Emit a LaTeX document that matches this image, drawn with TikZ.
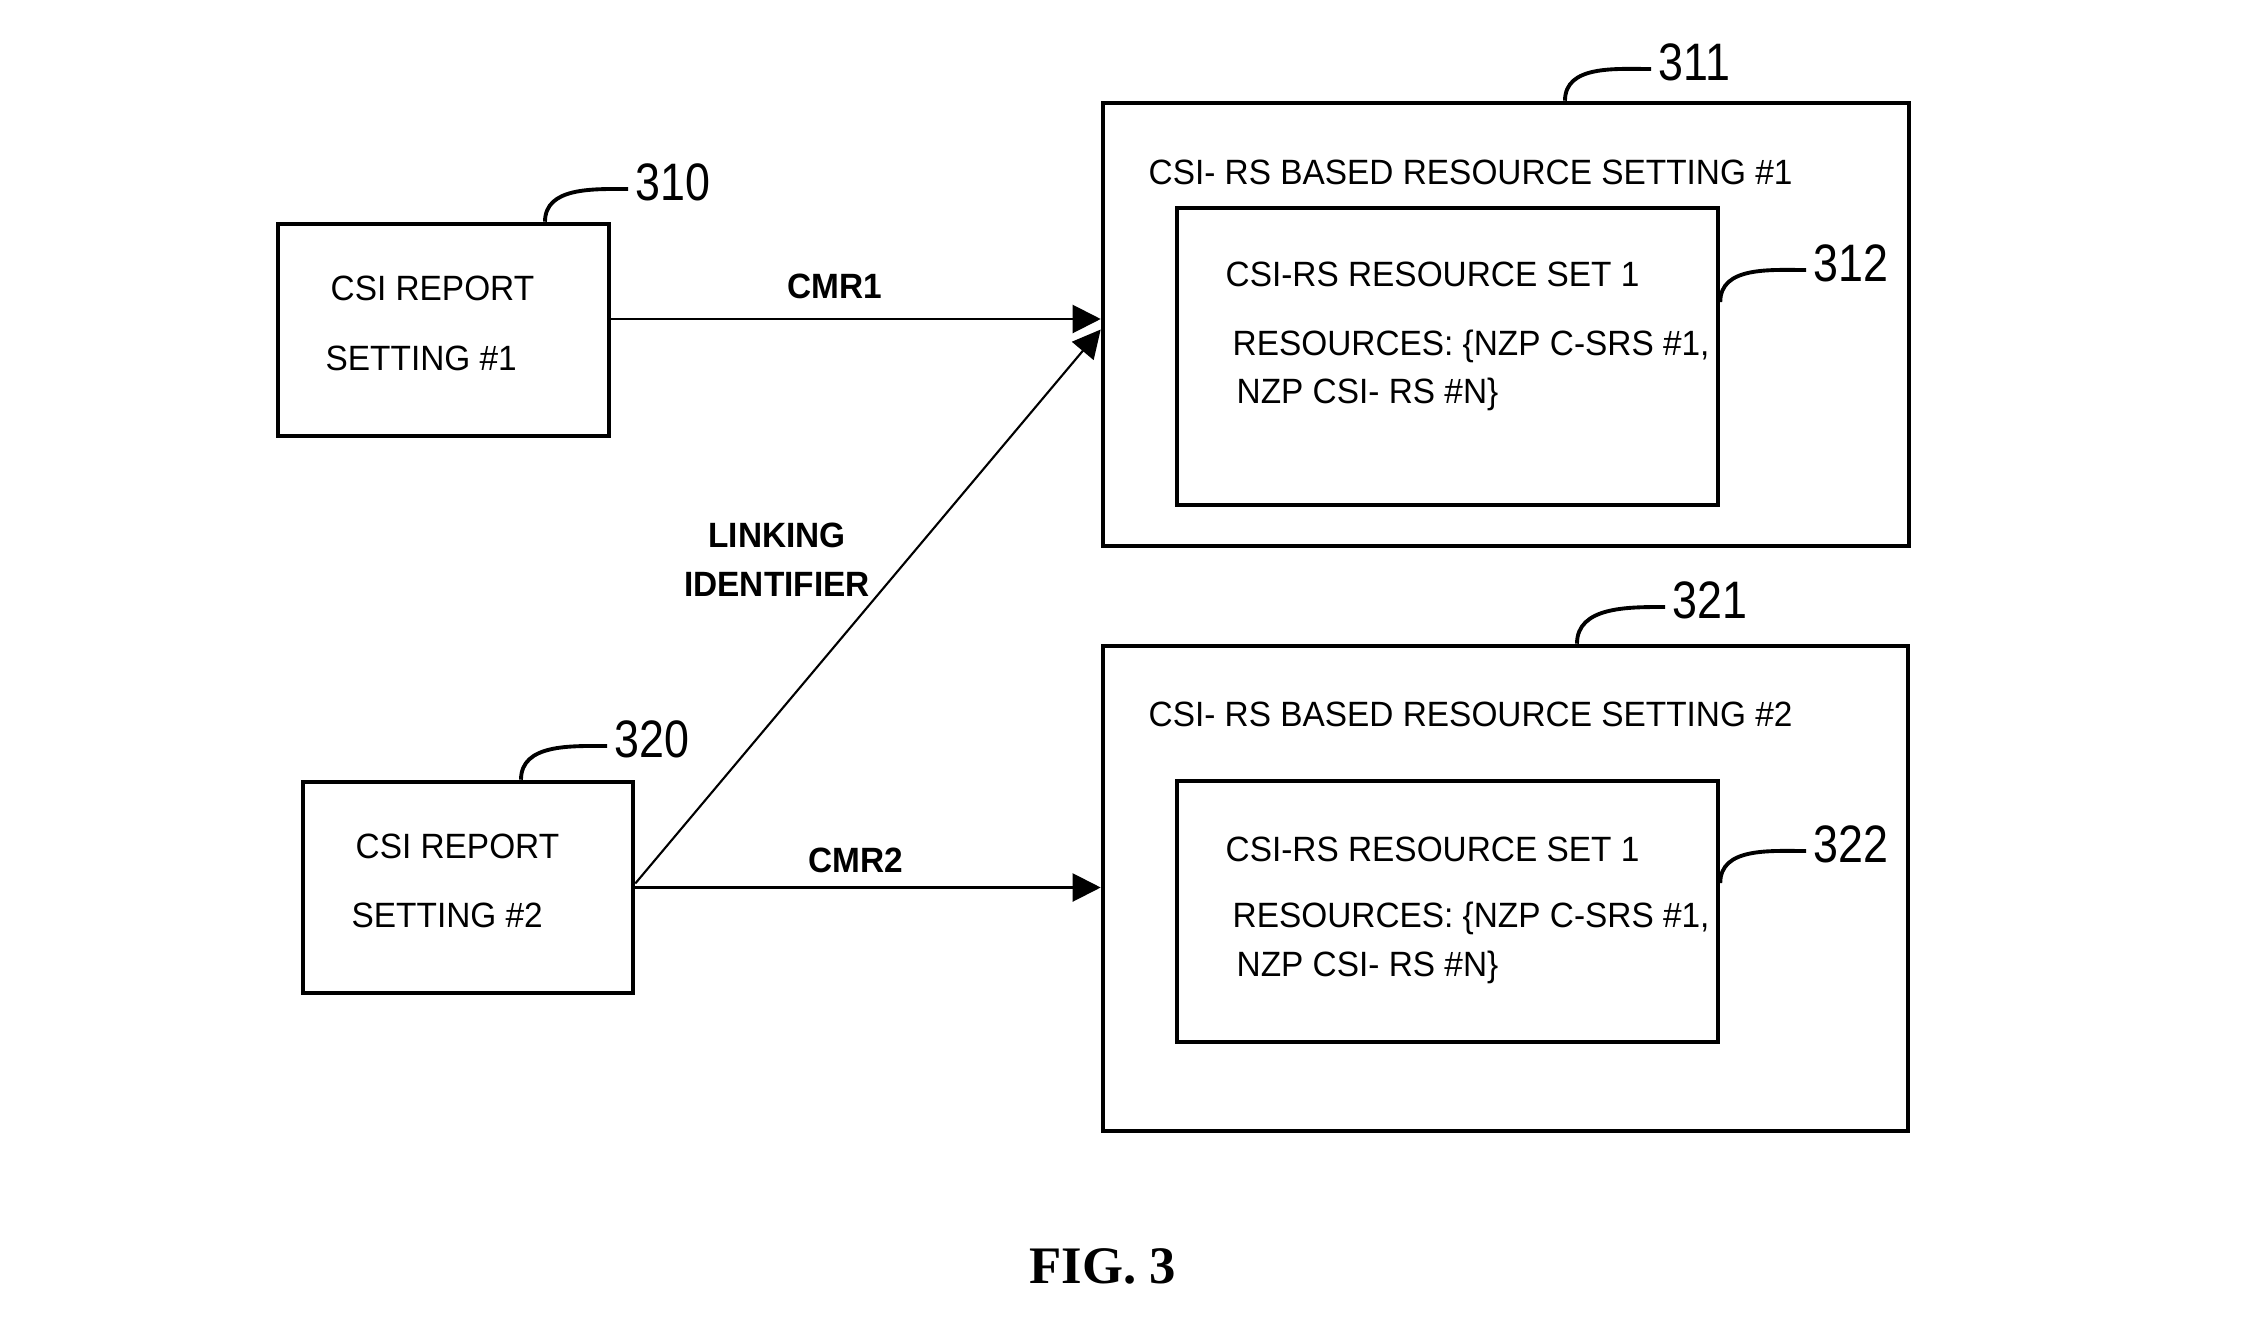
\documentclass[tikz,border=0pt]{standalone}
\usepackage{fontspec}
\setmainfont{Liberation Sans}[FakeStretch=0.95]
\newfontfamily\numfont{Liberation Sans}[FakeStretch=0.85]
\newfontfamily\figfont{Liberation Serif}
\usetikzlibrary{arrows.meta}

\begin{document}
\begin{tikzpicture}[x=0.1mm, y=-0.1mm,
		box/.style={draw, line width=1.3pt, rectangle, inner sep=0pt},
		txt/.style={anchor=base west, inner sep=0pt, font=\fontsize{10}{12}\selectfont},
		lbl/.style={anchor=base, inner sep=0pt, font=\fontsize{10}{12}\selectfont\bfseries},
		num/.style={anchor=west, inner sep=0.7mm, font=\fontsize{15}{18}\selectfont\numfont},
		lead/.style={line width=1.1pt},
		arr/.style={line width=0.6pt, -{Triangle[length=2.8mm, width=2.8mm]}}]
		
		\useasboundingbox (0,0) rectangle (2251,1318);
		
		% Report settings
		\node (rep1) [box, minimum width=33.1mm, minimum height=21.2mm] at (443.5,330) {};
		\node (rep2) [box, minimum width=33mm, minimum height=21.1mm] at (468,887.5) {};
		
		% Resource settings
		\node (set1) [box, minimum width=80.6mm, minimum height=44.3mm] at (1506,324.5) {};
		\node (rs1) [box, minimum width=54.1mm, minimum height=29.7mm] at (1447.5,356.5) {};
		\node (set2) [box, minimum width=80.5mm, minimum height=48.5mm] at (1505.5,888.5) {};
		\node (rs2) [box, minimum width=54.1mm, minimum height=26.1mm] at (1447.5,911.5) {};
		
		% Texts
		\node (rep1a) [txt] at (330,300) {CSI REPORT};
		\node (rep1b) [txt] at (325,370) {SETTING \#1};
		\node (rep2a) [txt] at (355,858) {CSI REPORT};
		\node (rep2b) [txt] at (351,927) {SETTING \#2};
		
		\node (set1t) [txt] at (1148,184) {CSI- RS BASED RESOURCE SETTING \#1};
		\node (rs1a) [txt] at (1225,286) {CSI-RS RESOURCE SET 1};
		\node (rs1b) [txt] at (1232,355) {RESOURCES: \{NZP C-SRS \#1,};
		\node (rs1c) [txt] at (1236,403) {NZP CSI- RS \#N\}};
		
		\node (set2t) [txt] at (1148,726) {CSI- RS BASED RESOURCE SETTING \#2};
		\node (rs2a) [txt] at (1225,861) {CSI-RS RESOURCE SET 1};
		\node (rs2b) [txt] at (1232,927) {RESOURCES: \{NZP C-SRS \#1,};
		\node (rs2c) [txt] at (1236,976) {NZP CSI- RS \#N\}};
		
		% Connections
		\draw[arr] ([yshift=1.1mm]rep1.east) -- ([yshift=1.1mm]rep1.east -| set1.west);
		\draw[arr] ([yshift=0.4mm]rep2.east) -- ([yshift=-0.5mm]set1.west);
		\draw[arr] (rep2.east) -- (rep2.east -| set2.west);
		
		\node (cmr1) [lbl] at (835,298) {CMR1};
		\node (cmr2) [lbl] at (856,872) {CMR2};
		\node (link1) [lbl] at (777,547) {LINKING};
		\node (link2) [lbl] at (777,596) {IDENTIFIER};
		
		% Reference numbers
		\node (n310) [num] at (628,182) {310};
		\node (n311) [num] at (1651,62) {311};
		\node (n312) [num] at (1806,263) {312};
		\node (n320) [num] at (607,739) {320};
		\node (n321) [num] at (1665,600) {321};
		\node (n322) [num] at (1806,844) {322};
		
		\draw[lead] ([xshift=10.15mm]rep1.north) to[out=90, in=180] ([yshift=-0.7mm]n310.west);
		\draw[lead] ([xshift=5.9mm]set1.north) to[out=90, in=180] ([yshift=-0.7mm]n311.west);
		\draw[lead] ([yshift=5.45mm]rs1.east) to[out=90, in=180] ([yshift=-0.7mm]n312.west);
		\draw[lead] ([xshift=5.3mm]rep2.north) to[out=90, in=180] ([yshift=-0.7mm]n320.west);
		\draw[lead] ([xshift=7.15mm]set2.north) to[out=90, in=180] ([yshift=-0.7mm]n321.west);
		\draw[lead] ([yshift=2.85mm]rs2.east) to[out=90, in=180] ([yshift=-0.7mm]n322.west);
		
		% Caption
		\node (fig) [anchor=base, inner sep=0pt, font=\fontsize{15}{18}\selectfont\figfont\bfseries] at (1103,1283) {FIG. 3};
		
	\end{tikzpicture}
\end{document}
